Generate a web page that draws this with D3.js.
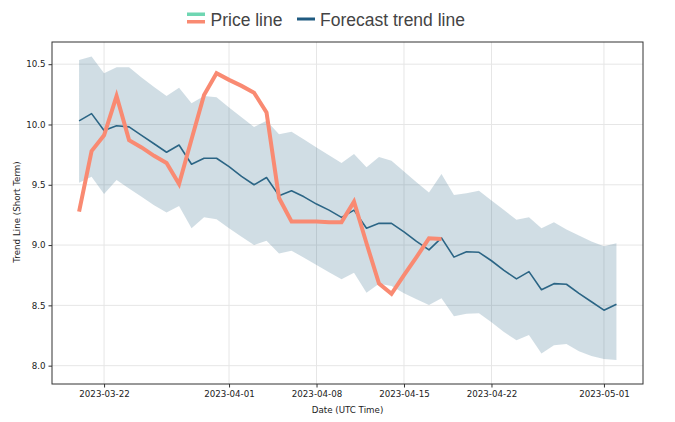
<!DOCTYPE html>
<html>
<head>
<meta charset="utf-8">
<script src="https://cdn.jsdelivr.net/npm/d3@7"></script>
<style>
  html, body { margin: 0; padding: 0; background: #fff; }
  svg { display: block; }
</style>
</head>
<body>
<svg id="chart" width="675" height="422"></svg>
<script>
// ---- DATA ----
const dates = [
  "2023-03-20","2023-03-21","2023-03-22","2023-03-23","2023-03-24","2023-03-25","2023-03-26",
  "2023-03-27","2023-03-28","2023-03-29","2023-03-30","2023-03-31","2023-04-01","2023-04-02",
  "2023-04-03","2023-04-04","2023-04-05","2023-04-06","2023-04-07","2023-04-08","2023-04-09",
  "2023-04-10","2023-04-11","2023-04-12","2023-04-13","2023-04-14","2023-04-15","2023-04-16",
  "2023-04-17","2023-04-18","2023-04-19","2023-04-20","2023-04-21","2023-04-22","2023-04-23",
  "2023-04-24","2023-04-25","2023-04-26","2023-04-27","2023-04-28","2023-04-29","2023-04-30",
  "2023-05-01","2023-05-02"
];
const forecast = [
  10.03, 10.09, 9.95, 9.99, 9.98, 9.91, 9.84,
  9.77, 9.83, 9.67, 9.72, 9.72, 9.65, 9.57,
  9.50, 9.56, 9.41, 9.45, 9.40, 9.34, 9.29,
  9.23, 9.29, 9.14, 9.18, 9.18, 9.11, 9.03,
  8.96, 9.06, 8.90, 8.945, 8.94, 8.87, 8.79,
  8.72, 8.78, 8.63, 8.68, 8.675, 8.60, 8.53,
  8.46, 8.51
];
const upper = [
  10.535, 10.563, 10.425, 10.474, 10.474, 10.39, 10.31,
  10.236, 10.305, 10.176, 10.236, 10.225, 10.14, 10.06,
  9.98, 10.03, 9.92, 9.94, 9.875, 9.81, 9.745,
  9.68, 9.755, 9.645, 9.73, 9.70, 9.61, 9.52,
  9.435, 9.59, 9.415, 9.43, 9.45, 9.37, 9.29,
  9.21, 9.23, 9.14, 9.19, 9.13, 9.08, 9.03,
  8.99, 9.015
];
const lower = [
  9.517, 9.567, 9.424, 9.54, 9.47, 9.40, 9.33,
  9.27, 9.324, 9.14, 9.23, 9.214, 9.14, 9.07,
  9.00, 9.036, 8.93, 8.954, 8.895, 8.835, 8.775,
  8.716, 8.77, 8.605, 8.68, 8.66, 8.60, 8.55,
  8.503, 8.56, 8.41, 8.43, 8.435, 8.36, 8.28,
  8.21, 8.255, 8.10, 8.17, 8.18, 8.12, 8.08,
  8.055, 8.047
];
const price = [
  9.277, 9.78, 9.91, 10.236, 9.87, 9.81, 9.74,
  9.68, 9.507, 9.877, 10.245, 10.425, 10.37, 10.32,
  10.264, 10.10, 9.39, 9.195, 9.195, 9.195, 9.19,
  9.19, 9.36, 9.015, 8.68, 8.595, 8.75, 8.90,
  9.056, 9.05
];
const xTickLabels = ["2023-03-22","2023-04-01","2023-04-08","2023-04-15","2023-04-22","2023-05-01"];
const yTickValues = [8.0, 8.5, 9.0, 9.5, 10.0, 10.5];
const legendLabels = ["Price line", "Forecast trend line"];

// ---- LAYOUT ----
const svg = d3.select("#chart");
const plot = { left: 52, right: 643, top: 42, bottom: 384 };
const parse = d3.utcParse("%Y-%m-%d");
const dts = dates.map(parse);

const x = d3.scaleUtc()
  .domain([d3.utcHour.offset(parse("2023-03-20"), -51.6), d3.utcHour.offset(parse("2023-05-02"), 51.6)])
  .range([plot.left, plot.right]);
const y = d3.scaleLinear().domain([7.848, 10.684]).range([plot.bottom, plot.top]);

const tickFont = "DejaVu Sans, sans-serif";
const colBand = "rgba(42,100,133,0.22)";
const colForecast = "#2b6585";
const colPrice = "#f98a72";

// grid
const g = svg.append("g");
g.selectAll("line.hg").data(yTickValues).join("line")
  .attr("x1", plot.left).attr("x2", plot.right)
  .attr("y1", d => y(d)).attr("y2", d => y(d))
  .attr("stroke", "#e6e6e6").attr("stroke-width", 1);
g.selectAll("line.vg").data(xTickLabels).join("line")
  .attr("x1", d => x(parse(d))).attr("x2", d => x(parse(d)))
  .attr("y1", plot.top).attr("y2", plot.bottom)
  .attr("stroke", "#e6e6e6").attr("stroke-width", 1);

// band
const idx = d3.range(dates.length);
svg.append("path")
  .datum(idx)
  .attr("fill", colBand)
  .attr("d", d3.area().x(i => x(dts[i])).y0(i => y(lower[i])).y1(i => y(upper[i])));

// forecast line
svg.append("path")
  .datum(idx)
  .attr("fill", "none").attr("stroke", colForecast).attr("stroke-width", 1.6)
  .attr("stroke-linejoin", "round")
  .attr("d", d3.line().x(i => x(dts[i])).y(i => y(forecast[i])));

// price line
svg.append("path")
  .datum(d3.range(price.length))
  .attr("fill", "none").attr("stroke", colPrice).attr("stroke-width", 4)
  .attr("stroke-linejoin", "miter").attr("stroke-linecap", "butt")
  .attr("d", d3.line().x(i => x(dts[i])).y(i => y(price[i])));

// axes
const xAxis = d3.axisBottom(x).tickValues(xTickLabels.map(parse))
  .tickFormat(d3.utcFormat("%Y-%m-%d")).tickSize(3.5).tickPadding(3);
const gx = svg.append("g").attr("transform", `translate(0,${plot.bottom})`).call(xAxis);
gx.select(".domain").remove();
gx.selectAll("text").attr("font-family", tickFont).attr("font-size", "8.7px").attr("fill", "#222");
gx.selectAll("line").attr("stroke", "#333");

const yAxis = d3.axisLeft(y).tickValues(yTickValues).tickFormat(d3.format(".1f")).tickSize(3.5).tickPadding(3);
const gy = svg.append("g").attr("transform", `translate(${plot.left},0)`).call(yAxis);
gy.select(".domain").remove();
gy.selectAll("text").attr("font-family", tickFont).attr("font-size", "8.7px").attr("fill", "#222");
gy.selectAll("line").attr("stroke", "#333");

// frame
svg.append("rect")
  .attr("x", plot.left).attr("y", plot.top)
  .attr("width", plot.right - plot.left).attr("height", plot.bottom - plot.top)
  .attr("fill", "none").attr("stroke", "#333").attr("stroke-width", 1);

// axis titles
svg.append("text")
  .attr("x", (plot.left + plot.right) / 2).attr("y", 413)
  .attr("text-anchor", "middle").attr("font-family", tickFont).attr("font-size", "8.7px").attr("fill", "#222")
  .text("Date (UTC Time)");
svg.append("text")
  .attr("transform", `translate(19.5,${(plot.top + plot.bottom) / 2 - 1}) rotate(-90)`)
  .attr("text-anchor", "middle").attr("font-family", tickFont).attr("font-size", "8.7px").attr("fill", "#222")
  .text("Trend Line (Short Term)");

// legend
const lg = svg.append("g").attr("font-family", "Liberation Sans, Arial, sans-serif").attr("font-size", "17.5px").attr("fill", "#444");
lg.append("rect").attr("x", 187).attr("y", 12.5).attr("width", 18).attr("height", 3.5).attr("fill", "#6fd6b2");
lg.append("rect").attr("x", 187).attr("y", 20).attr("width", 18).attr("height", 3.5).attr("fill", colPrice);
lg.append("text").attr("x", 210.5).attr("y", 25.5).text(legendLabels[0]);
lg.append("rect").attr("x", 297).attr("y", 17.5).attr("width", 18).attr("height", 3).attr("fill", "#1f5a80");
lg.append("text").attr("x", 320).attr("y", 25.5).text(legendLabels[1]);
</script>
</body>
</html>
